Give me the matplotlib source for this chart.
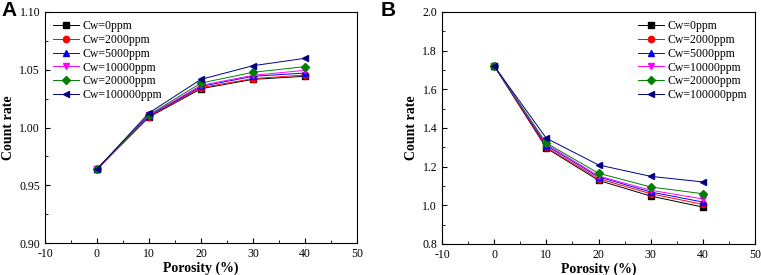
import matplotlib
matplotlib.use("Agg")
import matplotlib.pyplot as plt
from matplotlib.ticker import MultipleLocator

plt.rcParams['font.family'] = ['Liberation Serif', 'DejaVu Serif']
plt.rcParams['axes.unicode_minus'] = False

porosity = [0, 10, 20, 30, 40]
labels = ["Cw=0ppm", "Cw=2000ppm", "Cw=5000ppm", "Cw=10000ppm", "Cw=20000ppm", "Cw=100000ppm"]
colors = ["black", "red", "blue", "magenta", "green", "navy"]
markers = ["s", "o", "^", "v", "D", "<"]

rate_A = [
    [0.964, 1.009, 1.0336, 1.0417, 1.0443],
    [0.964, 1.0095, 1.0345, 1.0423, 1.0455],
    [0.964, 1.010, 1.0356, 1.0443, 1.0472],
    [0.964, 1.0105, 1.0365, 1.0452, 1.0495],
    [0.964, 1.011, 1.0385, 1.0478, 1.0527],
    [0.964, 1.0126, 1.0417, 1.0535, 1.0599],
]
rate_B = [
    [1.721, 1.296, 1.129, 1.048, 0.991],
    [1.721, 1.300, 1.138, 1.060, 1.005],
    [1.721, 1.309, 1.147, 1.069, 1.017],
    [1.721, 1.316, 1.152, 1.078, 1.033],
    [1.721, 1.322, 1.166, 1.095, 1.060],
    [1.721, 1.347, 1.209, 1.150, 1.121],
]

fig = plt.figure(figsize=(7.61, 2.75), dpi=100)
axA = fig.add_axes([45/761, 1-243/275, 312/761, 231/275])
axB = fig.add_axes([442/761, 1-244/275, 313/761, 232/275])

def draw(ax, data, ylim, ymajor, yminor, legend_loc, ytickfmt):
    for vals, lab, c, m in zip(data, labels, colors, markers):
        ax.plot(porosity, vals, color=c, lw=0.7,
                marker=m, markersize=4.5 if m != "D" else 4, markerfacecolor=c,
                markeredgecolor=c, label=lab)
    ax.set_xlim(-10, 50)
    ax.set_ylim(*ylim)
    ax.xaxis.set_major_locator(MultipleLocator(10))
    ax.xaxis.set_minor_locator(MultipleLocator(5))
    ax.yaxis.set_major_locator(MultipleLocator(ymajor))
    ax.yaxis.set_minor_locator(MultipleLocator(yminor))
    ax.tick_params(which='both', direction='in', top=False, right=False, labelsize=8.5)
    ax.tick_params(which='major', length=3.5)
    ax.tick_params(which='minor', length=2)
    ax.yaxis.set_major_formatter(matplotlib.ticker.FormatStrFormatter(ytickfmt))
    ax.set_xlabel("Porosity (%)", fontsize=10, fontweight='bold', labelpad=1)
    ax.set_ylabel("Count rate", fontsize=10, fontweight='bold', labelpad=3)
    for s in ax.spines.values():
        s.set_linewidth(0.8)
    ax.legend(loc=legend_loc, frameon=False, fontsize=8.5, handlelength=2.2,
              handletextpad=0.3, labelspacing=0.15, borderaxespad=0.3)

draw(axA, rate_A, (0.90, 1.10), 0.05, 0.025, 'upper left', "%.2f")
draw(axB, rate_B, (0.8, 2.0), 0.2, 0.1, 'upper right', "%.1f")

fig.text(1/761, 1-1/275, "A", fontsize=15, fontweight='bold', family='Liberation Sans', va='top', ha='left')
fig.text(381/761, 1-1/275, "B", fontsize=15, fontweight='bold', family='Liberation Sans', va='top', ha='left')

fig.savefig("out.png", dpi=100)
